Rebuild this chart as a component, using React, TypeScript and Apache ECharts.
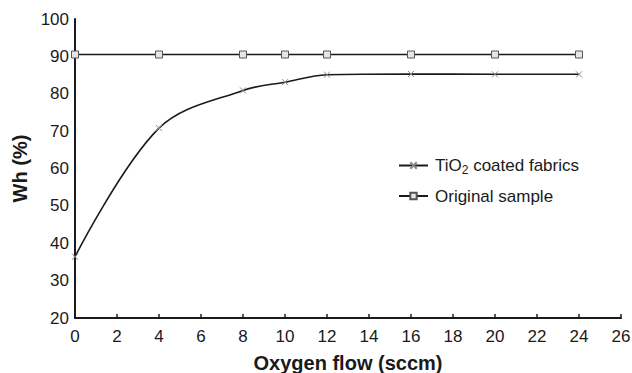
import React, { useEffect, useRef } from "react";
import * as echarts from "echarts";

// Oxygen flow (sccm) sampled for both series
const oxygenFlow = [0, 4, 8, 10, 12, 16, 20, 24];
// Whiteness index Wh (%)
const tio2Coated = [36.4, 70.8, 80.9, 83.1, 85.1, 85.3, 85.2, 85.2];
const originalSample = [90.5, 90.5, 90.5, 90.5, 90.5, 90.5, 90.5, 90.5];

const xTicks = { min: 0, max: 26, interval: 2 };
const yTicks = { min: 20, max: 100, interval: 10 };

const FONT = "Liberation Sans, Arial, sans-serif";
const INK = "#1a1a1a";

export default function App() {
  const ref = useRef<HTMLDivElement>(null);

  useEffect(() => {
    if (!ref.current) return;
    const chart = echarts.init(ref.current, undefined, { renderer: "svg" });
    const pairs = (ys: number[]) => oxygenFlow.map((x, i) => [x, ys[i]]);

    chart.setOption({
      animation: false,
      backgroundColor: "#ffffff",
      grid: { left: 75, right: 11, top: 19, bottom: 55, containLabel: false, outerBoundsMode: "none" },
      legend: {
        orient: "vertical",
        left: 393,
        top: 152,
        itemWidth: 29,
        itemHeight: 8,
        itemGap: 12,
        textStyle: {
          fontFamily: FONT,
          fontSize: 17,
          color: INK,
          padding: [0, 0, 0, 2],
          rich: {
            sub: { fontFamily: FONT, fontSize: 12, color: INK, verticalAlign: "bottom", padding: [8, 0, 0, 0] },
          },
        },
        formatter: (name: string) => (name.startsWith("TiO2") ? "TiO{sub|2} coated fabrics" : name),
        data: ["TiO2 coated fabrics", "Original sample"],
      },
      xAxis: {
        type: "value",
        min: xTicks.min,
        max: xTicks.max,
        interval: xTicks.interval,
        name: "Oxygen flow (sccm)",
        nameLocation: "middle",
        nameGap: 35,
        nameTextStyle: { fontFamily: FONT, fontSize: 20, fontWeight: "bold", color: INK },
        axisLine: { lineStyle: { color: INK, width: 2 } },
        axisTick: { inside: true, length: 4, lineStyle: { color: INK, width: 1.5 } },
        axisLabel: { fontFamily: FONT, fontSize: 17, color: INK, margin: 10 },
        splitLine: { show: false },
      },
      yAxis: {
        type: "value",
        min: yTicks.min,
        max: yTicks.max,
        interval: yTicks.interval,
        name: "Wh (%)",
        nameLocation: "middle",
        nameGap: 43,
        nameRotate: 90,
        nameTextStyle: { fontFamily: FONT, fontSize: 20, fontWeight: "bold", color: INK },
        axisLine: { show: true, lineStyle: { color: INK, width: 2 } },
        axisTick: { show: false },
        axisLabel: { fontFamily: FONT, fontSize: 17, color: INK, margin: 6 },
        splitLine: { show: false },
      },
      series: [
        {
          name: "TiO2 coated fabrics",
          type: "line",
          data: pairs(tio2Coated),
          smooth: 0.35,
          symbol: "path://M0,0L10,10M10,0L0,10",
          symbolSize: 6,
          lineStyle: { color: INK, width: 1.6 },
          itemStyle: { color: "#ffffff", borderColor: "#888", borderWidth: 1 },
          z: 2,
        },
        {
          name: "Original sample",
          type: "line",
          data: pairs(originalSample),
          symbol: "rect",
          symbolSize: 7,
          lineStyle: { color: INK, width: 1.6 },
          itemStyle: { color: "#e6e6e6", borderColor: "#555", borderWidth: 1 },
          z: 3,
        },
      ],
    });

    return () => chart.dispose();
  }, []);

  return <div ref={ref} style={{ width: 632, height: 373, position: "absolute", left: 0, top: 0 }} />;
}
